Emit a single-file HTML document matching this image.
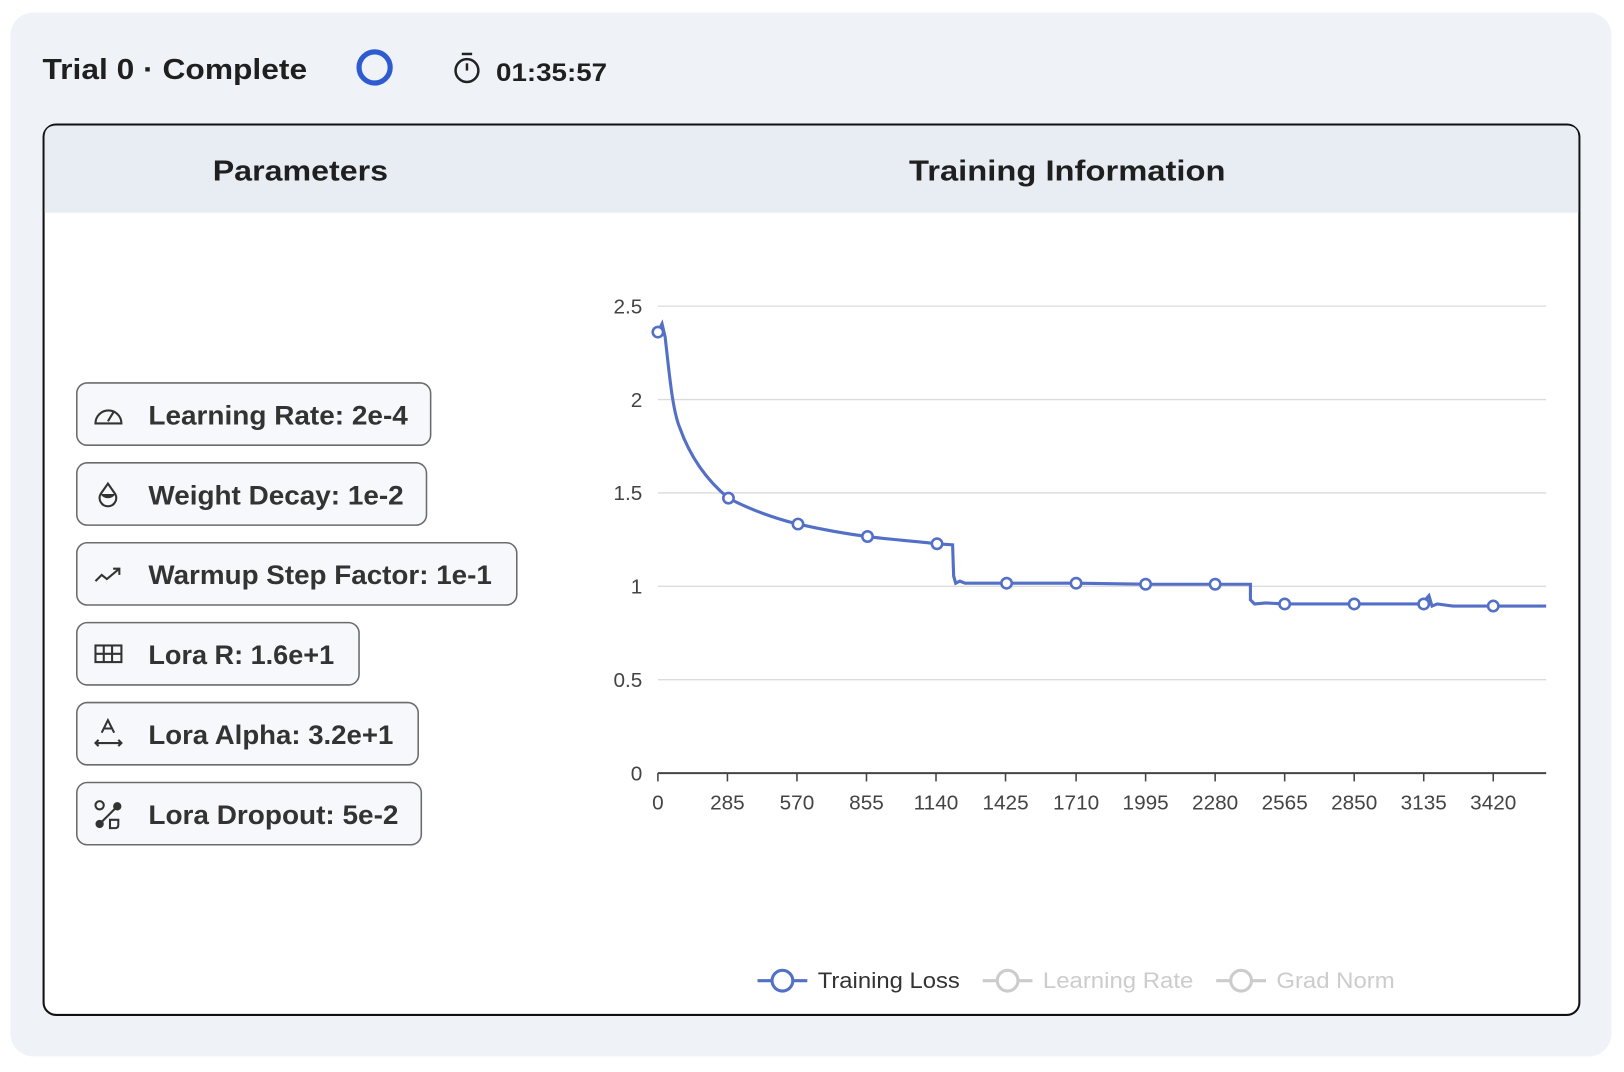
<!DOCTYPE html>
<html><head><meta charset="utf-8"><style>html,body{margin:0;padding:0;background:#fff;}svg{display:block}</style></head>
<body>
<svg width="1624" height="1072" viewBox="0 0 1565 1033" preserveAspectRatio="none" xmlns="http://www.w3.org/2000/svg" font-family="Liberation Sans, DejaVu Sans, sans-serif">
<rect x="10" y="12" width="1543" height="1006" rx="22" fill="#eff3f8"/>
<text x="41" y="76" font-size="28" font-weight="600" fill="#1f1f1f" textLength="255" lengthAdjust="spacingAndGlyphs">Trial 0 · Complete</text>
<circle cx="361" cy="65" r="15" fill="none" stroke="#2f5bd0" stroke-width="5"/>
<g stroke="#222" stroke-width="2.4" fill="none"><circle cx="450" cy="68" r="11"/><line x1="450" y1="68" x2="450" y2="61"/><line x1="445" y1="52" x2="455" y2="52"/></g>
<text x="478" y="78" font-size="24" font-weight="600" fill="#1f1f1f" textLength="107" lengthAdjust="spacingAndGlyphs">01:35:57</text>
<rect x="42" y="120" width="1480" height="858" rx="12" fill="#fff" stroke="#111" stroke-width="2"/>
<path d="M43 205 V132 Q43 121 54 121 H1510 Q1521 121 1521 132 V205 Z" fill="#e8edf4"/>
<text x="205" y="174" font-size="28" font-weight="600" fill="#1f1f1f" textLength="169" lengthAdjust="spacingAndGlyphs">Parameters</text>
<text x="876" y="174" font-size="28" font-weight="600" fill="#1f1f1f" textLength="305" lengthAdjust="spacingAndGlyphs">Training Information</text>
<g fill="#f7f8fb" stroke="#6b6b6b" stroke-width="1.5">
<rect x="74" y="369" width="341" height="60" rx="10"/>
<rect x="74" y="446" width="337" height="60" rx="10"/>
<rect x="74" y="523" width="424" height="60" rx="10"/>
<rect x="74" y="600" width="272" height="60" rx="10"/>
<rect x="74" y="677" width="329" height="60" rx="10"/>
<rect x="74" y="754" width="332" height="60" rx="10"/>
</g>
<g font-size="26" font-weight="600" fill="#333" lengthAdjust="spacingAndGlyphs">
<text x="143" y="409" textLength="250" lengthAdjust="spacingAndGlyphs">Learning Rate: 2e-4</text>
<text x="143" y="486" textLength="246" lengthAdjust="spacingAndGlyphs">Weight Decay: 1e-2</text>
<text x="143" y="563" textLength="331" lengthAdjust="spacingAndGlyphs">Warmup Step Factor: 1e-1</text>
<text x="143" y="640" textLength="179" lengthAdjust="spacingAndGlyphs">Lora R: 1.6e+1</text>
<text x="143" y="717" textLength="236" lengthAdjust="spacingAndGlyphs">Lora Alpha: 3.2e+1</text>
<text x="143" y="794" textLength="241" lengthAdjust="spacingAndGlyphs">Lora Dropout: 5e-2</text>
</g>
<g stroke="#333" stroke-width="2" fill="none">
<path d="M92 408 A12 12 0 1 1 117 408 Z"/><line x1="104" y1="406" x2="110" y2="396"/>
<path d="M104 466 L97 476 A8 8 0 1 0 111 476 Z"/>
<path d="M92 560 L98 554 L103 558 L115 548 M109 548 H115 V554"/>
<rect x="92" y="622" width="25" height="16"/><line x1="92" y1="630" x2="117" y2="630"/><line x1="100" y1="622" x2="100" y2="638"/><line x1="108" y1="622" x2="108" y2="638"/>
<path d="M98 706 L104 694 L110 706 M100 702 H108 M92 716 H117 M95 713 L92 716 L95 719 M114 713 L117 716 L114 719"/>
<circle cx="96" cy="776" r="4"/><line x1="96" y1="794" x2="113" y2="777"/><path d="M106 798 V790 H114 V795 Q114 798 111 798 Z"/>
</g>
<circle cx="96" cy="794" r="4" fill="#333"/><circle cx="113" cy="777" r="4" fill="#333"/>
<path d="M97 476 A8 8 0 0 0 111 476 Z" fill="#333"/>
<g stroke="#dcdcdc" stroke-width="1.3">
<line x1="634" y1="295" x2="1490" y2="295"/><line x1="634" y1="385" x2="1490" y2="385"/><line x1="634" y1="475" x2="1490" y2="475"/><line x1="634" y1="565" x2="1490" y2="565"/><line x1="634" y1="655" x2="1490" y2="655"/>
</g>
<g font-size="20" fill="#444" text-anchor="end">
<text x="619" y="302">2.5</text><text x="619" y="392">2</text><text x="619" y="482">1.5</text><text x="619" y="572">1</text><text x="619" y="662">0.5</text><text x="619" y="752">0</text>
</g>
<line x1="634" y1="745" x2="1490" y2="745" stroke="#444" stroke-width="2"/>
<g stroke="#444" stroke-width="1.5">
<line x1="634" y1="745" x2="634" y2="753"/><line x1="701" y1="745" x2="701" y2="753"/><line x1="768" y1="745" x2="768" y2="753"/><line x1="835" y1="745" x2="835" y2="753"/><line x1="902" y1="745" x2="902" y2="753"/><line x1="969" y1="745" x2="969" y2="753"/><line x1="1037" y1="745" x2="1037" y2="753"/><line x1="1104" y1="745" x2="1104" y2="753"/><line x1="1171" y1="745" x2="1171" y2="753"/><line x1="1238" y1="745" x2="1238" y2="753"/><line x1="1305" y1="745" x2="1305" y2="753"/><line x1="1372" y1="745" x2="1372" y2="753"/><line x1="1439" y1="745" x2="1439" y2="753"/>
</g>
<g font-size="20" fill="#444" text-anchor="middle">
<text x="634" y="780">0</text><text x="701" y="780">285</text><text x="768" y="780">570</text><text x="835" y="780">855</text><text x="902" y="780">1140</text><text x="969" y="780">1425</text><text x="1037" y="780">1710</text><text x="1104" y="780">1995</text><text x="1171" y="780">2280</text><text x="1238" y="780">2565</text><text x="1305" y="780">2850</text><text x="1372" y="780">3135</text><text x="1439" y="780">3420</text>
</g>
<path d="M634 320 L638 312 L641 325 C645 360 648 395 655 412 C665 440 680 462 702 480 C730 495 760 503 769 505 C800 512 820 515 836 517 C860 520 885 522 903 524 L918 525 L919 555 L921 562 L925 560 L930 562 L970 562 L1037 562 L1104 563 L1171 563 L1205 563 L1205 578 L1209 582 L1220 581 L1238 582 L1305 582 L1370 582 L1377 574 L1380 584 L1385 582 L1400 584 L1439 584 L1490 584" fill="none" stroke="#5470c6" stroke-width="3"/>
<g fill="#fff" stroke="#5470c6" stroke-width="2.5">
<circle cx="634" cy="320" r="5"/><circle cx="702" cy="480" r="5"/><circle cx="769" cy="505" r="5"/><circle cx="836" cy="517" r="5"/><circle cx="903" cy="524" r="5"/><circle cx="970" cy="562" r="5"/><circle cx="1037" cy="562" r="5"/><circle cx="1104" cy="563" r="5"/><circle cx="1171" cy="563" r="5"/><circle cx="1238" cy="582" r="5"/><circle cx="1305" cy="582" r="5"/><circle cx="1372" cy="582" r="5"/><circle cx="1439" cy="584" r="5"/>
</g>
<line x1="730" y1="945" x2="778" y2="945" stroke="#5470c6" stroke-width="3"/><circle cx="754" cy="945" r="10" fill="#fff" stroke="#5470c6" stroke-width="3"/>
<text x="788" y="952" font-size="21" fill="#333" textLength="137" lengthAdjust="spacingAndGlyphs">Training Loss</text>
<line x1="947" y1="945" x2="995" y2="945" stroke="#ccc" stroke-width="3"/><circle cx="971" cy="945" r="10" fill="#fff" stroke="#ccc" stroke-width="3"/>
<text x="1005" y="952" font-size="21" fill="#ccc" textLength="145" lengthAdjust="spacingAndGlyphs">Learning Rate</text>
<line x1="1172" y1="945" x2="1220" y2="945" stroke="#ccc" stroke-width="3"/><circle cx="1196" cy="945" r="10" fill="#fff" stroke="#ccc" stroke-width="3"/>
<text x="1230" y="952" font-size="21" fill="#ccc" textLength="114" lengthAdjust="spacingAndGlyphs">Grad Norm</text>
</svg>
</body></html>
